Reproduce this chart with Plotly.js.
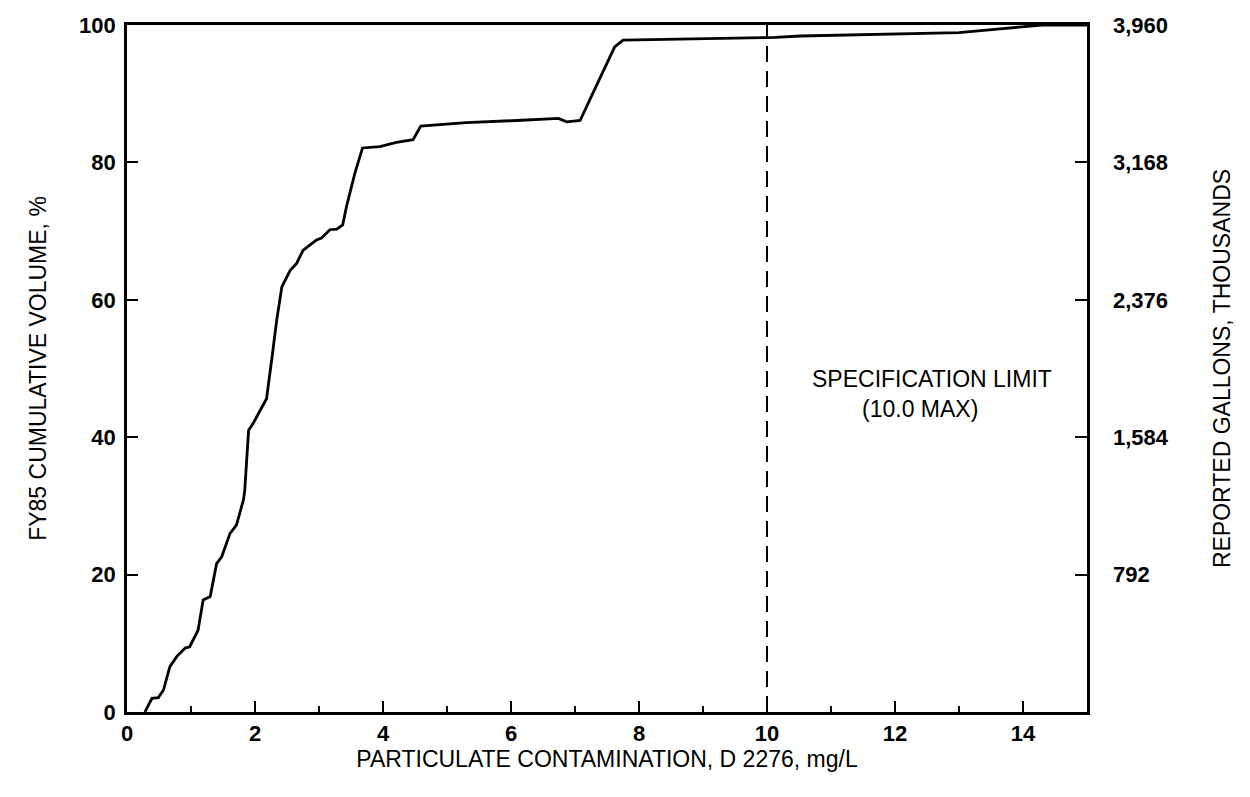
<!DOCTYPE html>
<html>
<head>
<meta charset="utf-8">
<script src="https://cdn.plot.ly/plotly-3.0.1.min.js"></script>
<style>html,body{margin:0;padding:0;background:#fff;}#chart{width:1250px;height:797px;}</style>
</head>
<body>
<div id="chart"></div>
<script>
// Particulate contamination (mg/L) vs FY85 cumulative volume (%)
const contamination = [0.28,0.39,0.49,0.57,0.67,0.78,0.91,0.98,1.11,1.19,1.30,1.40,1.48,1.61,1.71,1.82,1.84,1.90,1.97,2.18,2.26,2.34,2.42,2.55,2.65,2.75,2.86,2.96,3.04,3.17,3.28,3.37,3.43,3.56,3.68,3.95,4.21,4.47,4.59,5.02,5.30,6.09,6.74,6.87,7.08,7.23,7.52,7.62,7.75,8.43,10.13,10.52,13.0,13.6,14.3,15.0];
const cumulativePct = [0,2.0,2.1,3.2,6.6,8.1,9.3,9.5,11.9,16.3,16.8,21.6,22.6,26.0,27.2,30.9,32.3,41.0,42.0,45.6,51.2,57.1,61.9,64.3,65.3,67.2,68.0,68.7,69.0,70.2,70.3,70.9,73.6,78.4,82.1,82.3,82.9,83.3,85.3,85.6,85.8,86.1,86.4,85.9,86.1,89.1,94.9,96.8,97.8,97.9,98.2,98.4,98.9,99.4,100,100];
const specLimit = 10.0;
const specLine = [0, 100];
const xTicks = [0,2,4,6,8,10,12,14];
const yTicks = [0,20,40,60,80,100];
const gallonTicks = [792,1584,2376,3168,3960];
const gallonLabels = ['792','1,584','2,376','3,168','3,960'];
const gallonMax = 3960;
const specText1 = 'SPECIFICATION LIMIT';
const specText2 = '(10.0 MAX)';

const fontFam = '"Liberation Sans", Arial, sans-serif';
const tickFont = {family: fontFam, size: 22, color: '#000', weight: 'bold'};
const titleFont = {family: fontFam, size: 23, color: '#000'};

const traces = [
  {x: contamination, y: cumulativePct, type: 'scatter', mode: 'lines',
   line: {color: '#000', width: 2.8}, hoverinfo: 'skip', showlegend: false},
  {x: [specLimit, specLimit], y: specLine, type: 'scatter', mode: 'lines',
   line: {color: '#000', width: 2, dash: '16px,9px'}, hoverinfo: 'skip', showlegend: false},
  {x: [specLimit], y: [0], yaxis: 'y2', type: 'scatter', mode: 'markers',
   marker: {opacity: 0}, hoverinfo: 'skip', showlegend: false}
];

const layout = {
  width: 1250, height: 797,
  margin: {l: 127, r: 163, t: 25, b: 85},
  paper_bgcolor: '#fff', plot_bgcolor: '#fff',
  showlegend: false,
  xaxis: {
    range: [0, 15], tickvals: xTicks, ticktext: xTicks.map(String),
    ticks: 'inside', ticklen: 11, tickwidth: 2, tickcolor: '#000',
    minor: {dtick: 1, tick0: 0, ticks: 'inside', ticklen: 6, tickwidth: 2, tickcolor: '#000', showgrid: false},
    showline: true, mirror: true, linecolor: '#000', linewidth: 2.8,
    showgrid: false, zeroline: false, tickfont: tickFont, ticklabelstandoff: 0,
    title: {text: 'PARTICULATE CONTAMINATION, D 2276, mg/L', font: titleFont, standoff: 2}
  },
  yaxis: {
    range: [0, 100], tickvals: yTicks, ticktext: yTicks.map(String),
    ticks: 'inside', ticklen: 11, tickwidth: 2, tickcolor: '#000',
    showline: true, mirror: true, linecolor: '#000', linewidth: 2.8,
    showgrid: false, zeroline: false, tickfont: tickFont, ticklabelstandoff: 4,
    title: {text: 'FY85 CUMULATIVE VOLUME, %', font: titleFont, standoff: 26}
  },
  yaxis2: {
    range: [0, gallonMax], overlaying: 'y', side: 'right',
    tickvals: gallonTicks, ticktext: gallonLabels,
    ticks: 'inside', ticklen: 12, tickwidth: 2, tickcolor: '#000',
    showline: false, showgrid: false, zeroline: false, tickfont: tickFont, ticklabelstandoff: 25,
    title: {text: 'REPORTED GALLONS, THOUSANDS', font: titleFont, standoff: 46}
  },
  annotations: [
    {x: 12.58, y: 48.5, xref: 'x', yref: 'y', text: specText1, showarrow: false,
     font: titleFont, xanchor: 'center', yanchor: 'middle'},
    {x: 12.39, y: 44.1, xref: 'x', yref: 'y', text: specText2, showarrow: false,
     font: titleFont, xanchor: 'center', yanchor: 'middle'}
  ]
};

Plotly.newPlot('chart', traces, layout, {displayModeBar: false, staticPlot: true});
</script>
</body>
</html>
